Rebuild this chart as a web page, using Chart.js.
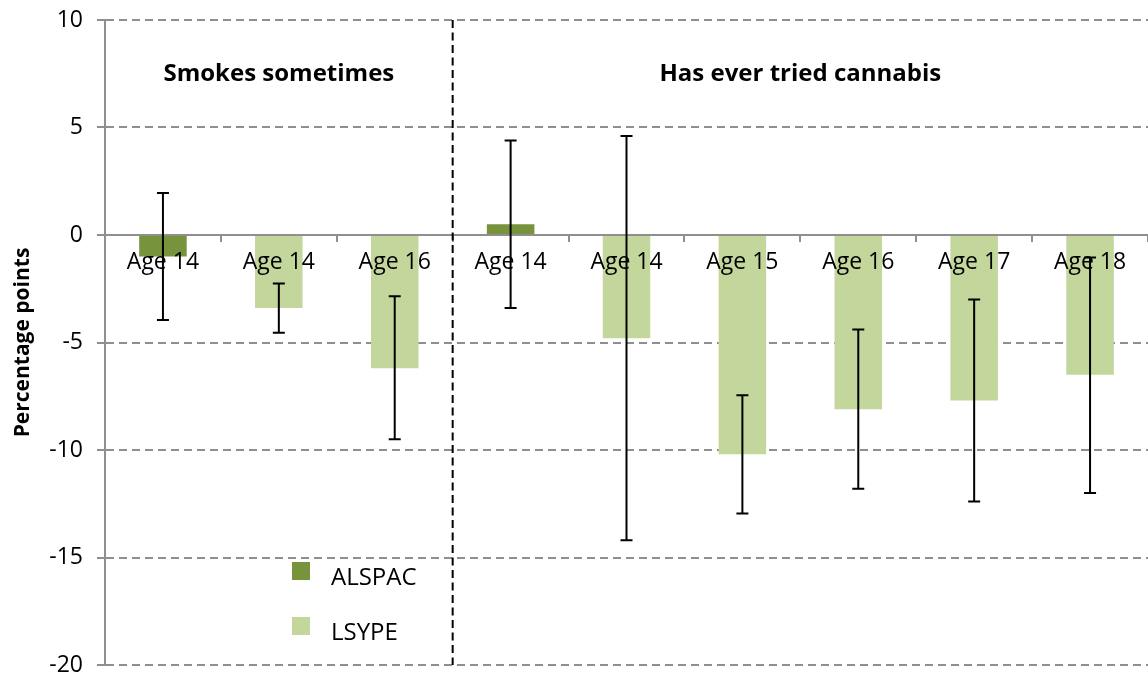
<!DOCTYPE html>
<html>
<head>
<meta charset="utf-8">
<script src="https://cdn.jsdelivr.net/npm/chart.js@4/dist/chart.umd.min.js"></script>
<style>
  html, body { margin: 0; padding: 0; background: #fff; }
  #wrap { width: 1148px; height: 674px; }
</style>
</head>
<body>
<div id="wrap"><canvas id="chart" width="1148" height="674"></canvas></div>
<script>
const categories = ['Age 14', 'Age 14', 'Age 16', 'Age 14', 'Age 14', 'Age 15', 'Age 16', 'Age 17', 'Age 18'];
const alspac = [-1.0, null, null, 0.5, null, null, null, null, null];
const lsype = [null, -3.4, -6.2, null, -4.8, -10.2, -8.1, -7.7, -6.5];
const errHigh = [1.95, -2.25, -2.85, 4.4, 4.6, -7.45, -4.4, -3.0, -1.05];
const errLow = [-3.95, -4.55, -9.5, -3.4, -14.2, -12.95, -11.8, -12.4, -12.0];
const yTicks = [-20, -15, -10, -5, 0, 5, 10];
const sections = [
    { label: 'Smokes sometimes', from: 0, to: 2 },
    { label: 'Has ever tried cannabis', from: 3, to: 8 }
];

const FONT = "'Open Sans', 'Noto Sans', sans-serif";
const GRID = '#8f8f8f';

// error bars, section divider, section titles and legend
const extras = {
    id: 'extras',
    afterDraw(chart) {
        const ctx = chart.ctx;
        const x = chart.scales.x;
        const y = chart.scales.y;
        const area = chart.chartArea;
        const catW = x.width / categories.length;

        // dashed divider between the two sections
        const divX = (x.getPixelForValue(2) + x.getPixelForValue(3)) / 2;
        ctx.save();
        ctx.strokeStyle = '#000';
        ctx.lineWidth = 2;
        ctx.setLineDash([8, 4.5]);
        ctx.beginPath();
        ctx.moveTo(divX, area.top);
        ctx.lineTo(divX, area.bottom);
        ctx.stroke();
        ctx.restore();

        // section titles
        ctx.save();
        ctx.fillStyle = '#000';
        ctx.font = 'bold 24px ' + FONT;
        ctx.textAlign = 'center';
        ctx.textBaseline = 'middle';
        sections.forEach(s => {
            const left = x.getPixelForValue(s.from) - catW / 2;
            const right = x.getPixelForValue(s.to) + catW / 2;
            ctx.fillText(s.label, (left + right) / 2, y.getPixelForValue(7.5));
        });
        ctx.restore();

        // error bars
        ctx.save();
        ctx.strokeStyle = '#000';
        ctx.lineWidth = 2;
        categories.forEach((c, i) => {
            const px = x.getPixelForValue(i);
            const top = y.getPixelForValue(errHigh[i]);
            const bot = y.getPixelForValue(errLow[i]);
            ctx.beginPath();
            ctx.moveTo(px, top);
            ctx.lineTo(px, bot);
            ctx.moveTo(px - 6, top);
            ctx.lineTo(px + 6, top);
            ctx.moveTo(px - 6, bot);
            ctx.lineTo(px + 6, bot);
            ctx.stroke();
        });
        ctx.restore();

        // legend inside the plot
        ctx.save();
        ctx.font = '24px ' + FONT;
        ctx.textBaseline = 'alphabetic';
        ctx.textAlign = 'left';
        chart.data.datasets.forEach((ds, i) => {
            const cy = area.bottom - 94 + i * 55;
            const lx = area.left + 187;
            ctx.fillStyle = ds.backgroundColor;
            ctx.fillRect(lx, cy - 9, 18, 18);
            ctx.fillStyle = '#000';
            ctx.fillText(ds.label, lx + 39, cy + 14);
        });
        ctx.restore();
    }
};

new Chart(document.getElementById('chart'), {
    type: 'bar',
    data: {
        labels: categories,
        datasets: [
            { label: 'ALSPAC', data: alspac, backgroundColor: '#77933C' },
            { label: 'LSYPE', data: lsype, backgroundColor: '#C3D69B' }
        ]
    },
    options: {
        responsive: false,
        animation: false,
        events: [],
        skipNull: true,
        datasets: { bar: { categoryPercentage: 1, barPercentage: 0.41 } },
        layout: { padding: { top: 20, bottom: 9, right: 0, left: 0 } },
        plugins: {
            legend: { display: false },
            tooltip: { enabled: false }
        },
        scales: {
            x: {
                position: { y: 0 },
                grid: { drawOnChartArea: false, drawTicks: true, tickLength: 6, color: GRID, lineWidth: 2, z: 1 },
                border: { color: GRID, width: 2, z: 1 },
                ticks: { color: '#000', font: { family: FONT, size: 23 }, padding: 8, maxRotation: 0, autoSkip: false, z: 1 }
            },
            y: {
                min: -20,
                max: 10,
                afterBuildTicks(scale) { scale.ticks = yTicks.map(v => ({ value: v })); },
                afterFit(scale) {
                    scale.width = 105;
                    scale.paddingTop = 0;
                    scale.paddingBottom = 0;
                },
                grid: { color: GRID, lineWidth: 2, tickLength: 8, tickBorderDash: [8, 5] },
                border: { display: true, color: GRID, width: 2, dash: [8, 5] },
                ticks: { color: '#000', font: { family: FONT, size: 23 }, padding: 14 },
                title: {
                    display: true,
                    text: 'Percentage points',
                    color: '#000',
                    font: { family: FONT, size: 21, weight: 'bold' },
                    padding: { top: 10, bottom: 0 }
                }
            }
        }
    },
    plugins: [extras]
});
</script>
</body>
</html>
